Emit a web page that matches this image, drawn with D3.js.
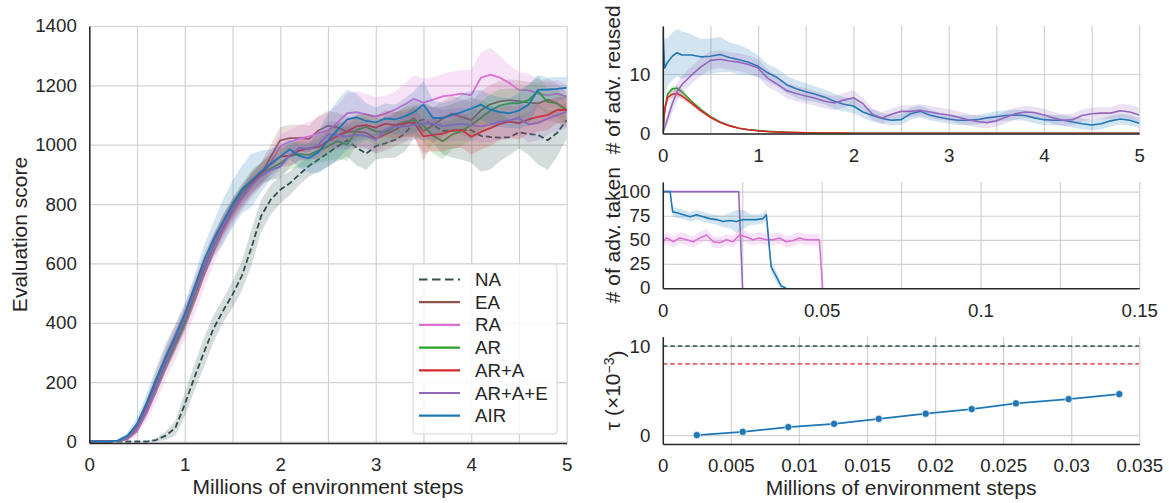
<!DOCTYPE html>
<html>
<head>
<meta charset="utf-8">
<script src="https://cdn.jsdelivr.net/npm/d3@7"></script>
<style>
  body { margin: 0; background: #fff; }
  svg text { font-family: Arial, "Liberation Sans", sans-serif; fill: #262626; }
</style>
</head>
<body>
<svg id="chart" width="1169" height="503"></svg>
<script>
// ---------- data: evaluation score (left) ----------
var scoreSteps = [0, 0.1, 0.2, 0.3, 0.4, 0.5, 0.6, 0.7, 0.8, 0.9, 1.0, 1.1, 1.2, 1.3, 1.4, 1.5, 1.6, 1.7, 1.8, 1.9, 2.0,
  2.1, 2.2, 2.3, 2.4, 2.5, 2.6, 2.7, 2.8, 2.9, 3.0, 3.1, 3.2, 3.3, 3.4, 3.5, 3.6, 3.7, 3.8, 3.9, 4.0,
  4.1, 4.2, 4.3, 4.4, 4.5, 4.6, 4.7, 4.8, 4.9, 5.0];

var scoreNA = [0, 0, 0, 0, 0, 0, 0, 5, 20, 45, 125, 215, 300, 380, 440, 495, 560, 655, 760, 815, 848,
  870, 900, 928, 950, 972, 995, 1015, 990, 970, 995, 1005, 1016, 1036, 1075, 1085, 1066, 1047, 1047, 1049, 1049,
  1030, 1026, 1024, 1025, 1042, 1036, 1033, 1015, 1040, 1083];
var bandNA = [0, 0, 0, 0, 0, 0, 2, 5, 15, 25, 40, 45, 50, 45, 40, 45, 50, 60, 55, 50, 45,
  40, 35, 35, 40, 45, 50, 55, 60, 55, 45, 50, 60, 60, 55, 55, 60, 80, 90, 100, 110,
  120, 110, 80, 60, 55, 70, 100, 100, 80, 60];

var scoreEA = [0, 0, 0, 2, 12, 45, 110, 190, 270, 340, 410, 495, 580, 660, 720, 775, 820, 870, 900, 960, 1015,
  1022, 1022, 1020, 1048, 1064, 1058, 1044, 1044, 1040, 1020, 1035, 1050, 1068, 1090, 1045, 1066, 1088, 1105, 1094, 1083,
  1115, 1136, 1146, 1150, 1147, 1142, 1139, 1152, 1140, 1117];
var bandEA = [0, 0, 0, 3, 8, 15, 25, 30, 35, 35, 35, 35, 35, 35, 35, 35, 35, 40, 40, 40, 45,
  45, 45, 45, 50, 50, 50, 50, 50, 50, 50, 55, 55, 60, 60, 100, 60, 60, 60, 60, 60,
  65, 65, 70, 70, 70, 70, 70, 70, 65, 60];

var scoreRA = [0, 0, 0, 1, 8, 35, 95, 170, 250, 320, 390, 470, 560, 640, 710, 770, 820, 860, 900, 940, 995,
  1010, 1020, 1028, 1038, 1048, 1075, 1106, 1110, 1102, 1095, 1105, 1118, 1135, 1155, 1142, 1152, 1163, 1167, 1172, 1167,
  1225, 1236, 1226, 1208, 1184, 1184, 1172, 1166, 1172, 1162];
var bandRA = [0, 0, 0, 3, 8, 15, 25, 35, 40, 45, 45, 45, 45, 45, 40, 40, 40, 40, 40, 40, 40,
  40, 45, 50, 55, 60, 60, 65, 70, 70, 65, 60, 60, 70, 80, 80, 75, 75, 80, 80, 85,
  85, 90, 75, 60, 60, 55, 50, 45, 45, 40];

var scoreAR = [0, 0, 0, 2, 12, 45, 110, 185, 265, 330, 400, 490, 580, 660, 735, 790, 840, 880, 905, 920, 937,
  962, 968, 966, 980, 995, 1012, 1000, 1050, 1060, 1045, 1042, 1062, 1077, 1083, 1065, 1030, 1012, 1034, 1046, 1066,
  1090, 1115, 1132, 1139, 1140, 1150, 1180, 1144, 1139, 1115];
var bandAR = [0, 0, 0, 3, 8, 15, 20, 25, 30, 30, 30, 30, 30, 30, 30, 30, 30, 35, 35, 40, 45,
  45, 45, 40, 40, 50, 60, 55, 50, 45, 45, 45, 45, 50, 50, 55, 60, 60, 50, 50, 50,
  55, 55, 55, 50, 50, 50, 50, 45, 45, 45];

var scoreARA = [0, 0, 0, 2, 15, 50, 120, 200, 280, 350, 420, 505, 590, 665, 730, 785, 830, 870, 905, 935, 960,
  963, 980, 988, 992, 1012, 1030, 1045, 1062, 1066, 1058, 1071, 1066, 1072, 1075, 1028, 1033, 1037, 1048, 1050, 1027,
  1043, 1056, 1070, 1078, 1073, 1085, 1094, 1100, 1117, 1117];
var bandARA = [0, 0, 0, 3, 8, 15, 25, 35, 40, 40, 40, 40, 40, 35, 35, 35, 35, 35, 35, 35, 35,
  35, 35, 35, 40, 40, 40, 40, 40, 40, 40, 45, 45, 45, 50, 55, 55, 60, 60, 60, 60,
  60, 60, 55, 55, 55, 50, 50, 50, 45, 45];

var scoreARAE = [0, 0, 0, 2, 12, 45, 110, 190, 270, 340, 415, 500, 585, 665, 730, 785, 830, 865, 895, 915, 926,
  965, 990, 985, 1000, 1035, 1032, 1027, 1034, 1030, 1016, 1050, 1061, 1061, 1067, 1072, 1072, 1063, 1067, 1070, 1066,
  1062, 1068, 1078, 1083, 1090, 1068, 1074, 1088, 1100, 1111];
var bandARAE = [0, 0, 0, 3, 8, 15, 20, 25, 30, 30, 30, 30, 30, 30, 30, 30, 30, 30, 30, 35, 40,
  40, 40, 40, 40, 45, 45, 45, 45, 45, 45, 50, 50, 50, 50, 55, 55, 55, 55, 55, 55,
  55, 60, 60, 60, 60, 60, 60, 55, 55, 55];

var scoreAIR = [0, 0, 0, 3, 20, 60, 130, 210, 285, 355, 430, 520, 610, 680, 740, 800, 850, 880, 910, 935, 960,
  985, 962, 955, 975, 1015, 1050, 1085, 1092, 1080, 1075, 1089, 1085, 1095, 1110, 1135, 1090, 1090, 1100, 1110, 1122,
  1135, 1118, 1110, 1106, 1115, 1135, 1185, 1186, 1188, 1192];
var bandAIR = [0, 0, 0, 5, 10, 20, 30, 40, 45, 40, 35, 40, 50, 60, 75, 80, 80, 90, 70, 50, 40,
  35, 40, 50, 70, 90, 100, 100, 80, 60, 50, 50, 50, 60, 70, 80, 60, 50, 50, 60, 60,
  50, 50, 50, 50, 60, 70, 50, 40, 40, 35];

// ---------- data: # of adv. reused (top right) ----------
var reuseSteps = [0, 0.02, 0.05, 0.1, 0.15, 0.2, 0.3, 0.4, 0.5, 0.6, 0.7, 0.8, 0.9, 1.0,
  1.1, 1.2, 1.3, 1.4, 1.5, 1.6, 1.7, 1.8, 1.9, 2.0, 2.1, 2.2, 2.3, 2.4, 2.5, 2.6, 2.7, 2.8, 2.9, 3.0,
  3.1, 3.2, 3.3, 3.4, 3.5, 3.6, 3.7, 3.8, 3.9, 4.0, 4.1, 4.2, 4.3, 4.4, 4.5, 4.6, 4.7, 4.8, 4.9, 5.0];

var reuseAR = [0, 4, 6.6, 7.5, 7.6, 7.0, 5.4, 4.0, 2.8, 1.9, 1.3, 0.85, 0.6, 0.45,
  0.33, 0.24, 0.17, 0.12, 0.09, 0.07, 0.05, 0.04, 0.03, 0.02, 0.02, 0.02, 0.01, 0.01, 0.01, 0.01, 0.01, 0.01, 0.01, 0.01,
  0.01, 0.01, 0.01, 0.01, 0.01, 0.01, 0.01, 0.01, 0.01, 0.01, 0.01, 0.01, 0.01, 0.01, 0.01, 0.01, 0.01, 0.01, 0.01, 0.01];
var reuseBandAR = [0, 0.5, 0.5, 0.5, 0.5, 0.5, 0.4, 0.3, 0.25, 0.2, 0.15, 0.1, 0.1, 0.08,
  0.06, 0.05, 0.05, 0.04, 0.04, 0.03, 0.03, 0.03, 0.02, 0.02, 0.02, 0.02, 0.02, 0.02, 0.02, 0.02, 0.02, 0.02, 0.02, 0.02,
  0.02, 0.02, 0.02, 0.02, 0.02, 0.02, 0.02, 0.02, 0.02, 0.02, 0.02, 0.02, 0.02, 0.02, 0.02, 0.02, 0.02, 0.02, 0.02, 0.02];

var reuseARA = [0, 4, 6.0, 6.6, 6.7, 6.3, 5.1, 3.8, 2.7, 1.85, 1.25, 0.85, 0.6, 0.42,
  0.3, 0.22, 0.16, 0.11, 0.08, 0.06, 0.05, 0.04, 0.03, 0.02, 0.02, 0.02, 0.01, 0.01, 0.01, 0.01, 0.01, 0.01, 0.01, 0.01,
  0.01, 0.01, 0.01, 0.01, 0.01, 0.01, 0.01, 0.01, 0.01, 0.01, 0.01, 0.01, 0.01, 0.01, 0.01, 0.01, 0.01, 0.01, 0.01, 0.01];
var reuseBandARA = [0, 0.6, 0.6, 0.6, 0.6, 0.5, 0.4, 0.3, 0.25, 0.2, 0.15, 0.1, 0.1, 0.08,
  0.06, 0.05, 0.05, 0.04, 0.04, 0.03, 0.03, 0.03, 0.02, 0.02, 0.02, 0.02, 0.02, 0.02, 0.02, 0.02, 0.02, 0.02, 0.02, 0.02,
  0.02, 0.02, 0.02, 0.02, 0.02, 0.02, 0.02, 0.02, 0.02, 0.02, 0.02, 0.02, 0.02, 0.02, 0.02, 0.02, 0.02, 0.02, 0.02, 0.02];

var reuseAIR = [17.5, 11, 12, 13, 13.6, 13.2, 13.2, 12.9, 13.0, 13.3, 12.8, 12.4, 12.0, 11.3,
  10.2, 9.4, 8.2, 7.5, 7.0, 6.6, 6.1, 5.4, 4.9, 4.6, 3.6, 3.0, 2.5, 2.2, 2.3, 3.3, 3.7, 3.1, 2.7, 2.4,
  2.2, 2.2, 2.3, 2.6, 2.8, 3.0, 3.1, 3.0, 2.6, 2.3, 2.2, 2.2, 1.9, 1.6, 1.4, 1.6, 2.1, 2.4, 2.2, 1.7];
var reuseBandAIR = [8, 5, 4, 4, 4, 4, 3.5, 3, 3, 3, 2.5, 2.5, 2.2, 1.8,
  1.5, 1.5, 1.5, 1.5, 1.5, 1.3, 1.3, 1.3, 1.2, 1.2, 1.0, 1.0, 0.9, 0.9, 0.9, 1.0, 1.0, 0.9, 0.8, 0.8,
  0.8, 0.8, 0.8, 0.8, 0.9, 0.9, 0.9, 0.9, 0.9, 0.9, 0.9, 0.9, 0.9, 0.9, 0.9, 0.9, 0.9, 0.9, 0.9, 0.8];

var reuseARAE = [0, 1.0, 2.5, 5, 7, 8.2, 9.8, 11.2, 12.3, 12.5, 12.2, 12.0, 11.6, 11.0,
  9.3, 8.3, 7.2, 6.7, 6.3, 5.9, 5.4, 5.1, 5.6, 6.0, 5.0, 3.2, 2.6, 3.2, 3.7, 3.7, 3.9, 3.6, 3.3, 3.1,
  2.7, 2.3, 2.0, 1.8, 2.1, 2.7, 3.3, 3.6, 3.5, 3.1, 2.6, 2.2, 2.3, 3.0, 3.3, 3.4, 3.4, 3.8, 3.6, 3.1];
var reuseBandARAE = [0, 0.5, 1, 1.5, 1.5, 1.5, 1.5, 1.5, 1.5, 1.5, 1.5, 1.5, 1.5, 1.5,
  1.5, 1.3, 1.3, 1.3, 1.3, 1.2, 1.2, 1.2, 1.2, 1.2, 1.0, 1.0, 1.0, 1.0, 1.0, 1.0, 1.0, 1.0, 1.0, 1.0,
  1.0, 1.0, 1.0, 1.0, 1.0, 1.0, 1.0, 1.0, 1.0, 1.0, 1.0, 1.0, 1.0, 1.0, 1.0, 1.0, 1.0, 1.2, 1.2, 1.2];

// ---------- data: # of adv. taken (middle right) ----------
var takenStepsARAE = [0, 0.005, 0.01, 0.015, 0.02, 0.0239, 0.0251];
var takenARAE = [100, 100, 100, 100, 100, 100, 0];
var takenBandARAE = [0, 0, 0, 0, 0, 0, 0];

var takenStepsRA = [0, 0.00125, 0.0033, 0.0054, 0.0075, 0.0096, 0.0117, 0.0138, 0.0159, 0.018, 0.02, 0.0221, 0.0242,
  0.0263, 0.0284, 0.0305, 0.0326, 0.0347, 0.0367, 0.0388, 0.0409, 0.043, 0.0451, 0.0472, 0.0493, 0.0503];
var takenRA = [48, 52, 48, 52, 50, 48, 52, 55, 48, 47, 50, 48, 55, 53, 50, 52, 50, 50, 52, 48, 49, 52, 50, 50, 50, 0];
var takenBandRA = [6, 6, 6, 6, 6, 6, 6, 6, 6, 6, 6, 6, 6, 6, 6, 6, 6, 6, 6, 6, 6, 6, 6, 6, 6, 0];

var takenStepsAIR = [0, 0.0023, 0.0031, 0.0044, 0.0065, 0.0086, 0.0106, 0.0127, 0.0148, 0.0169, 0.019, 0.0211,
  0.0232, 0.0253, 0.0273, 0.0294, 0.0315, 0.0326, 0.0341, 0.0357, 0.0373, 0.0388];
var takenAIR = [100, 100, 79, 78, 76, 74, 76, 74, 72, 71, 69, 70, 69, 71, 71, 71, 72, 76, 22, 12, 2, 0];
var takenBandAIR = [0, 0, 5, 5, 5, 5, 5, 5, 5, 5, 6, 8, 12, 10, 6, 5, 5, 6, 6, 6, 3, 0];

// ---------- data: tau (bottom right) ----------
var tauSteps = [0.0025, 0.00587, 0.00922, 0.01258, 0.01586, 0.01931, 0.02269, 0.02594, 0.02981, 0.03353];
var tauAIR = [0, 0.37, 0.9, 1.27, 1.83, 2.4, 2.92, 3.56, 4.04, 4.61];
var tauNA = 10;
var tauARA = 8;

var legendNames = ['NA', 'EA', 'RA', 'AR', 'AR+A', 'AR+A+E', 'AIR'];

// ---------- style ----------
var colors = {
  'NA': '#2f4f4f', 'EA': '#8c564b', 'RA': '#da70d6', 'AR': '#2ca02c',
  'AR+A': '#d62728', 'AR+A+E': '#9467bd', 'AIR': '#1f77b4'
};
var tickFont = 18.7;
var labelFont = 21;
var gridColor = '#d2d2d2';
var spineColor = '#262626';

var svg = d3.select('#chart');
svg.append('rect').attr('width', 1169).attr('height', 503).attr('fill', '#fff');

//Builds an axes box with grid, spines and tick labels; returns scales and a clipped layer
function makePanel(p) {
  var x = d3.scaleLinear().domain(p.xDomain).range([p.left, p.right]);
  var y = d3.scaleLinear().domain(p.yDomain).range([p.bottom, p.top]);
  var g = svg.append('g');

  g.append('g')
    .attr('transform', 'translate(0,' + p.bottom + ')')
    .call(d3.axisBottom(x).tickValues(p.xGrid).tickSize(-(p.bottom - p.top)).tickFormat(''))
    .call(function(a) { a.select('.domain').remove(); })
    .selectAll('line').attr('stroke', gridColor).attr('stroke-width', 1.2);

  g.append('g')
    .attr('transform', 'translate(' + p.left + ',0)')
    .call(d3.axisLeft(y).tickValues(p.yGrid).tickSize(-(p.right - p.left)).tickFormat(''))
    .call(function(a) { a.select('.domain').remove(); })
    .selectAll('line').attr('stroke', gridColor).attr('stroke-width', 1.2);

  var clipId = 'clip-' + p.name;
  svg.append('clipPath').attr('id', clipId).append('rect')
    .attr('x', p.left).attr('y', p.top)
    .attr('width', p.right - p.left).attr('height', p.bottom - p.top);

  var plot = svg.append('g').attr('clip-path', 'url(#' + clipId + ')');

  var axes = svg.append('g');
  var fmt = d3.format('~g');

  var xa = axes.append('g')
    .attr('transform', 'translate(0,' + p.bottom + ')')
    .call(d3.axisBottom(x).tickValues(p.xTicks).tickSize(0).tickPadding(15).tickFormat(fmt));
  var ya = axes.append('g')
    .attr('transform', 'translate(' + p.left + ',0)')
    .call(d3.axisLeft(y).tickValues(p.yTicks).tickSize(0).tickPadding(12.5).tickFormat(fmt));

  [xa, ya].forEach(function(a) {
    a.attr('font-size', tickFont).attr('font-family', null);
    a.select('.domain').attr('stroke', spineColor).attr('stroke-width', 1.5);
    a.selectAll('text').attr('fill', spineColor);
  });

  if (p.xLabel) {
    axes.append('text')
      .attr('x', (p.left + p.right) / 2).attr('y', p.xLabelY)
      .attr('text-anchor', 'middle').attr('dy', '0.35em')
      .attr('font-size', labelFont).text(p.xLabel);
  }
  if (p.yLabel) {
    var lbl = axes.append('text')
      .attr('transform', 'translate(' + p.yLabelX + ',' + (p.top + p.bottom) / 2 + ') rotate(-90)')
      .attr('text-anchor', 'middle').attr('dy', '0.35em')
      .attr('font-size', labelFont);
    if (typeof p.yLabel === 'function') {
      p.yLabel(lbl);
    } else {
      lbl.text(p.yLabel);
    }
  }

  return { x: x, y: y, plot: plot, axes: axes };
}

function drawBandLine(panel, steps, mean, band, color, opts) {
  opts = opts || {};
  var pts = steps.map(function(t, i) { return { t: t, m: mean[i], b: band[i] }; });
  var area = d3.area()
    .x(function(d) { return panel.x(d.t); })
    .y0(function(d) { return panel.y(d.m - d.b); })
    .y1(function(d) { return panel.y(d.m + d.b); });
  var line = d3.line()
    .x(function(d) { return panel.x(d.t); })
    .y(function(d) { return panel.y(d.m); });

  panel.plot.append('path').datum(pts)
    .attr('d', area).attr('fill', color).attr('fill-opacity', 0.2).attr('stroke', 'none');
  panel.plot.append('path').datum(pts)
    .attr('d', line).attr('fill', 'none').attr('stroke', color)
    .attr('stroke-width', opts.width || 1.8)
    .attr('stroke-linejoin', 'round')
    .attr('stroke-dasharray', opts.dash || null);
}

// ---------- left: evaluation score ----------
var left = makePanel({
  name: 'score', left: 89.3, right: 566.7, top: 26, bottom: 443,
  xDomain: [0, 5], yDomain: [-5, 1400],
  xGrid: [0, 0.5, 1, 1.5, 2, 2.5, 3, 3.5, 4, 4.5, 5], yGrid: [0, 200, 400, 600, 800, 1000, 1200, 1400],
  xTicks: [0, 1, 2, 3, 4, 5], yTicks: [0, 200, 400, 600, 800, 1000, 1200, 1400],
  xLabel: 'Millions of environment steps', xLabelY: 487,
  yLabel: 'Evaluation score', yLabelX: 20
});

var scoreSeries = [
  { name: 'NA', mean: scoreNA, band: bandNA, dash: '6,3' },
  { name: 'EA', mean: scoreEA, band: bandEA },
  { name: 'RA', mean: scoreRA, band: bandRA },
  { name: 'AR', mean: scoreAR, band: bandAR },
  { name: 'AR+A', mean: scoreARA, band: bandARA },
  { name: 'AR+A+E', mean: scoreARAE, band: bandARAE },
  { name: 'AIR', mean: scoreAIR, band: bandAIR }
];
scoreSeries.forEach(function(s) {
  drawBandLine(left, scoreSteps, s.mean, s.band, colors[s.name], { dash: s.dash, width: 1.8 });
});

// legend
var leg = svg.append('g');
leg.append('rect')
  .attr('x', 413).attr('y', 264).attr('width', 144).attr('height', 170)
  .attr('rx', 3).attr('fill', '#fff').attr('fill-opacity', 0.85)
  .attr('stroke', '#d6d6d6').attr('stroke-width', 1);
legendNames.forEach(function(n, i) {
  var cy = 279.5 + i * 22.7;
  leg.append('line')
    .attr('x1', 419).attr('x2', 460).attr('y1', cy).attr('y2', cy)
    .attr('stroke', colors[n]).attr('stroke-width', 2.2)
    .attr('stroke-dasharray', n === 'NA' ? '8.5,4.5' : null);
  leg.append('text')
    .attr('x', 475).attr('y', cy).attr('dy', '0.35em')
    .attr('font-size', tickFont).text(n);
});

// ---------- top right: # of adv. reused ----------
var reused = makePanel({
  name: 'reused', left: 662.8, right: 1139.3, top: 26, bottom: 133.6,
  xDomain: [0, 5], yDomain: [-0.05, 18.1],
  xGrid: [0, 0.5, 1, 1.5, 2, 2.5, 3, 3.5, 4, 4.5, 5], yGrid: [0, 10],
  xTicks: [0, 1, 2, 3, 4, 5], yTicks: [0, 10],
  yLabel: '# of adv. reused', yLabelX: 613
});
drawBandLine(reused, reuseSteps, reuseAR, reuseBandAR, colors['AR'], { width: 1.6 });
drawBandLine(reused, reuseSteps, reuseARA, reuseBandARA, colors['AR+A'], { width: 1.6 });
drawBandLine(reused, reuseSteps, reuseAIR, reuseBandAIR, colors['AIR'], { width: 1.6 });
drawBandLine(reused, reuseSteps, reuseARAE, reuseBandARAE, colors['AR+A+E'], { width: 1.6 });

// ---------- middle right: # of adv. taken ----------
var taken = makePanel({
  name: 'taken', left: 662.8, right: 1139.3, top: 182, bottom: 288.3,
  xDomain: [0, 0.15], yDomain: [-0.3, 110],
  xGrid: [0, 0.025, 0.05, 0.075, 0.1, 0.125, 0.15], yGrid: [0, 25, 50, 75, 100],
  xTicks: [0, 0.05, 0.1, 0.15], yTicks: [0, 25, 50, 75, 100],
  yLabel: '# of adv. taken', yLabelX: 613
});
drawBandLine(taken, takenStepsARAE, takenARAE, takenBandARAE, colors['AR+A+E'], { width: 1.6 });
drawBandLine(taken, takenStepsRA, takenRA, takenBandRA, colors['RA'], { width: 1.6 });
drawBandLine(taken, takenStepsAIR, takenAIR, takenBandAIR, colors['AIR'], { width: 1.6 });

// ---------- bottom right: tau ----------
var tau = makePanel({
  name: 'tau', left: 662.8, right: 1139.3, top: 336.7, bottom: 444,
  xDomain: [0, 0.035], yDomain: [-1, 11.05],
  xGrid: [0, 0.005, 0.01, 0.015, 0.02, 0.025, 0.03, 0.035], yGrid: [0, 10],
  xTicks: [0, 0.005, 0.01, 0.015, 0.02, 0.025, 0.03, 0.035], yTicks: [0, 10],
  xLabel: 'Millions of environment steps', xLabelY: 488,
  yLabelX: 613,
  yLabel: function(t) {
    t.append('tspan').text('\u03c4 (\u00d710');
    t.append('tspan').attr('dy', '-0.45em').attr('font-size', 14).text('\u22123');
    t.append('tspan').attr('dy', '0.45em').text(')');
  }
});

[{ v: tauNA, c: colors['NA'] }, { v: tauARA, c: colors['AR+A'] }].forEach(function(r) {
  tau.plot.append('line')
    .attr('x1', tau.x(0)).attr('x2', tau.x(0.035))
    .attr('y1', tau.y(r.v)).attr('y2', tau.y(r.v))
    .attr('stroke', r.c).attr('stroke-width', 1.4).attr('stroke-dasharray', '4.5,3');
});

var tauPts = tauSteps.map(function(t, i) { return { t: t, v: tauAIR[i] }; });
tau.plot.append('path').datum(tauPts)
  .attr('d', d3.line().x(function(d) { return tau.x(d.t); }).y(function(d) { return tau.y(d.v); }))
  .attr('fill', 'none').attr('stroke', colors['AIR']).attr('stroke-width', 1.8);
tau.plot.selectAll('circle').data(tauPts).enter().append('circle')
  .attr('cx', function(d) { return tau.x(d.t); })
  .attr('cy', function(d) { return tau.y(d.v); })
  .attr('r', 3.6)
  .attr('fill', colors['AIR']).attr('stroke', '#fff').attr('stroke-width', 0.6);
</script>
</body>
</html>
